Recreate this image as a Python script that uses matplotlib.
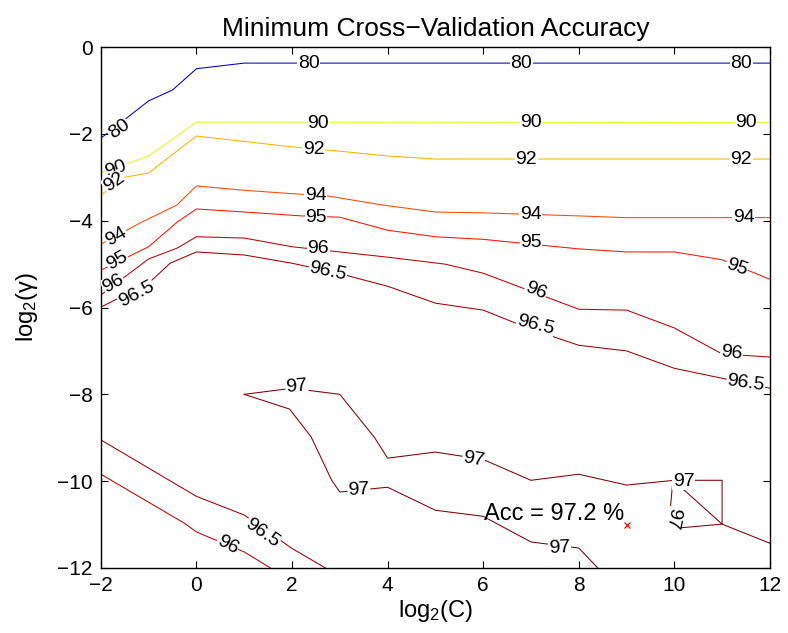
import matplotlib
matplotlib.use("Agg")
import matplotlib.pyplot as plt
from matplotlib.colors import Normalize

plt.rcParams['font.family'] = ['Liberation Sans', 'DejaVu Sans']
plt.rcParams['mathtext.fontset'] = 'custom'
plt.rcParams['mathtext.rm'] = 'Liberation Sans'
plt.rcParams['mathtext.it'] = 'Liberation Sans:italic'

# contour lines (log2 C, log2 gamma)
c80_x = [-2, -1, -0.5, 0, 1, 12]
c80_y = [-2.1, -1.24, -0.99, -0.5, -0.37, -0.37]

c90_x = [-2, -1, 0, 12]
c90_y = [-2.9, -2.51, -1.73, -1.74]

c92_x = [-2, -1.5, -1, 0, 2, 3, 4, 5, 12]
c92_y = [-3.41, -3.0, -2.9, -2.05, -2.3, -2.4, -2.51, -2.58, -2.58]

c94_x = [-2, -1.14, -0.41, 0, 1, 2.16, 2.64, 3.9, 5, 6, 8, 9, 12]
c94_y = [-4.54, -4.03, -3.64, -3.2, -3.3, -3.39, -3.41, -3.64, -3.8, -3.82, -3.89, -3.93, -3.93]

c95_x = [-2, -1, -0.4, 0, 1, 2.2, 3, 4, 5, 6, 8, 9, 10, 11, 12]
c95_y = [-5.14, -4.6, -4.03, -3.73, -3.8, -3.89, -3.92, -4.22, -4.37, -4.43, -4.65, -4.72, -4.72, -4.9, -5.35]

c96_x = [-2, -1, -0.4, 0, 1, 2, 3, 4, 5.2, 6, 8, 9, 10, 11, 12]
c96_y = [-5.71, -4.88, -4.63, -4.37, -4.4, -4.6, -4.72, -4.84, -5.0, -5.21, -6.04, -6.06, -6.47, -7.07, -7.14]

c965_x = [-2, -1, -0.55, 0, 1, 2, 3, 4, 5, 6, 7, 8, 9, 10, 11, 12]
c965_y = [-5.99, -5.44, -4.98, -4.72, -4.79, -4.98, -5.22, -5.51, -5.9, -6.06, -6.5, -6.87, -7.0, -7.4, -7.63, -7.86]

c965b_x = [-2, 0, 1, 2, 2.7]
c965b_y = [-9.05, -10.35, -10.78, -11.55, -12]

c96b_x = [-2, -0.25, 0, 1, 1.55]
c96b_y = [-9.84, -10.97, -11.17, -11.63, -12]

c97a_x = [1, 2, 3, 3.73, 4, 5, 6, 7, 8, 9, 10, 11, 11, 12]
c97a_y = [-8.0, -7.86, -8.0, -9.0, -9.47, -9.33, -9.5, -9.98, -9.84, -10.09, -9.98, -9.98, -10.99, -11.43]

c97b_x = [1, 1.95, 2.4, 2.83, 3, 4, 5, 6, 7, 8, 8.4]
c97b_y = [-8.0, -8.34, -8.98, -9.98, -10.25, -10.14, -10.67, -10.81, -11.4, -11.54, -12]

c97c_x = [10.05, 11, 10.07, 9.92, 9.97]
c97c_y = [-10.05, -10.99, -11.08, -10.6, -9.98]

lines = [
    (80, c80_x, c80_y), (90, c90_x, c90_y), (92, c92_x, c92_y),
    (94, c94_x, c94_y), (95, c95_x, c95_y), (96, c96_x, c96_y),
    (96.5, c965_x, c965_y), (96.5, c965b_x, c965b_y), (96, c96b_x, c96b_y),
    (97, c97a_x, c97a_y), (97, c97b_x, c97b_y), (97, c97c_x, c97c_y),
]

# inline labels: text, x, y, rotation
labels = [
    ("80", -1.62, -1.9, 35), ("80", 2.35, -0.37, 0), ("80", 6.8, -0.37, 0), ("80", 11.4, -0.37, 0),
    ("90", -1.68, -2.8, 20), ("90", 2.55, -1.76, 0), ("90", 7.0, -1.74, 0), ("90", 11.5, -1.74, 0),
    ("92", -1.72, -3.12, 35), ("92", 2.45, -2.36, 0), ("92", 6.9, -2.58, 0), ("92", 11.4, -2.58, 0),
    ("94", -1.68, -4.37, 30), ("94", 2.5, -3.42, 0), ("94", 7.0, -3.86, 0), ("94", 11.45, -3.93, 0),
    ("95", -1.66, -4.92, 30), ("95", 2.5, -3.93, 0), ("95", 7.0, -4.5, 0), ("95", 11.3, -5.08, -20),
    ("96", -1.74, -5.45, 30), ("96", 2.55, -4.64, 0), ("96", 7.1, -5.62, -22), ("96", 11.2, -7.05, -8),
    ("96.5", -1.25, -5.69, 28), ("96.5", 2.75, -5.18, -12), ("96.5", 7.1, -6.4, -14), ("96.5", 11.5, -7.74, -8),
    ("96.5", 1.37, -11.2, -35), ("96", 0.65, -11.47, -28),
    ("97", 2.1, -7.83, 5), ("97", 5.8, -9.5, -10), ("97", 3.4, -10.2, 3),
    ("97", 7.6, -11.53, 3), ("97", 10.2, -10.0, 0), ("97", 9.97, -10.85, -100),
]

best_x = [9]
best_y = [-11]
best_acc = 97.2

xticks = [-2, 0, 2, 4, 6, 8, 10, 12]
yticks = [-12, -10, -8, -6, -4, -2, 0]

norm = Normalize(79, 97)
cmap = plt.cm.jet

fig = plt.figure(figsize=(7.88, 6.33), dpi=100)
ax = fig.add_axes([0.128, 0.1027, 0.849, 0.823])

for lev, xs, ys in lines:
    ax.plot(xs, ys, color=cmap(norm(lev)), linewidth=0.75, zorder=2)

for txt, x, y, rot in labels:
    ax.text(x, y, txt, fontsize=14, ha='center', va='center', rotation=rot,
            rotation_mode='anchor', zorder=3, clip_on=True,
            bbox=dict(boxstyle='square,pad=0.03', fc='white', ec='none'))

ax.plot(best_x, best_y, 'x', color='red', markersize=5, markeredgewidth=0.9, zorder=4)
ax.text(best_x[0] - 0.05, best_y[0] + 0.1, f"Acc = {best_acc} %", fontsize=17,
        ha='right', va='baseline', zorder=4)

ax.set_xlim(-2, 12)
ax.set_ylim(-12, 0)
ax.set_xticks(xticks)
ax.set_yticks(yticks)
ax.tick_params(direction='in', top=True, right=True, length=5, width=0.8,
               labelsize=15, pad=6)
for s in ax.spines.values():
    s.set_linewidth(1.0)

ax.set_xlabel("log$_2$(C)", fontsize=17, labelpad=2)
ax.set_ylabel("log$_2$(γ)", fontsize=17, labelpad=12)
ax.set_title("Minimum Cross\u2212Validation Accuracy", fontsize=19, pad=8)

fig.savefig("out.png", dpi=100)
